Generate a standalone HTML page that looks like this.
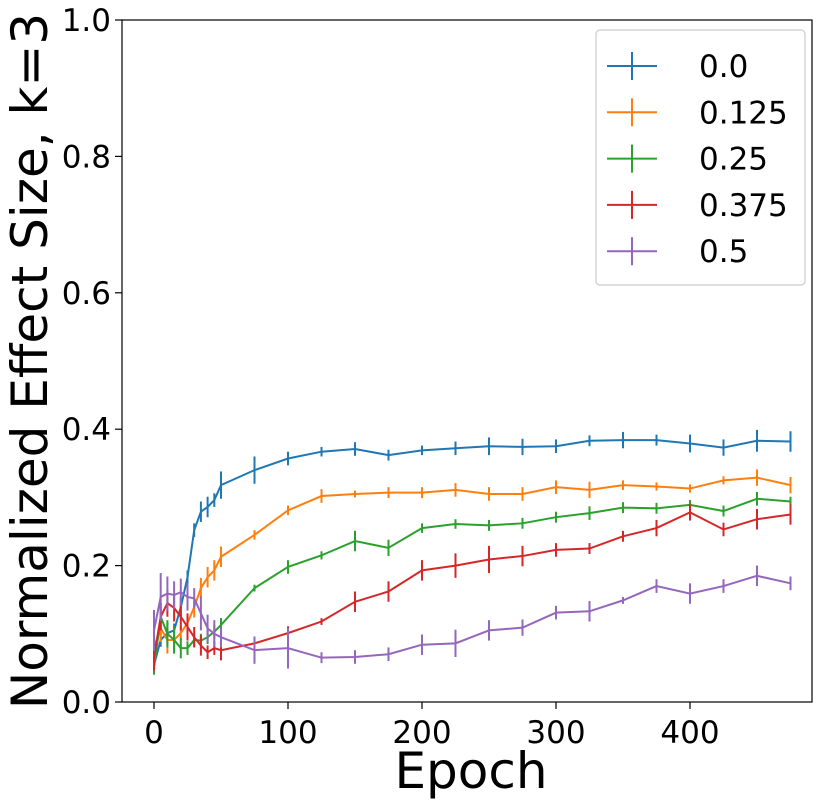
<!DOCTYPE html>
<html><head><meta charset="utf-8"><style>
body{margin:0;background:#fff}
svg{display:block;font-family:"DejaVu Sans","Liberation Sans",sans-serif}
</style></head><body>
<svg id="chart" width="831" height="805" viewBox="0 0 831 805"></svg>
<script>
const epochs=[0,5,10,15,20,25,30,35,40,45,50,75,100,125,150,175,200,225,250,275,300,325,350,375,400,425,450,475];
const seriesLabels=["0.0","0.125","0.25","0.375","0.5"];
const colors=["#1f77b4","#ff7f0e","#2ca02c","#d62728","#9467bd"];
const s0=[0.054,0.091,0.101,0.105,0.139,0.183,0.252,0.279,0.286,0.296,0.318,0.340,0.357,0.367,0.371,0.362,0.369,0.372,0.375,0.374,0.375,0.383,0.384,0.384,0.379,0.373,0.383,0.382];
const s1=[0.081,0.108,0.091,0.091,0.101,0.116,0.139,0.167,0.183,0.193,0.213,0.245,0.281,0.302,0.305,0.307,0.307,0.311,0.305,0.305,0.315,0.311,0.318,0.316,0.313,0.325,0.329,0.318];
const s2=[0.050,0.125,0.100,0.091,0.079,0.079,0.091,0.090,0.095,0.103,0.113,0.167,0.198,0.215,0.236,0.226,0.255,0.261,0.259,0.262,0.271,0.277,0.285,0.284,0.289,0.280,0.298,0.294];
const s3=[0.066,0.125,0.145,0.138,0.125,0.110,0.095,0.083,0.073,0.079,0.076,0.086,0.101,0.118,0.147,0.162,0.193,0.200,0.209,0.214,0.223,0.225,0.243,0.255,0.278,0.253,0.268,0.275];
const s4=[0.105,0.154,0.159,0.157,0.161,0.154,0.152,0.130,0.108,0.100,0.095,0.076,0.079,0.065,0.066,0.070,0.084,0.086,0.105,0.109,0.131,0.133,0.149,0.170,0.159,0.170,0.185,0.174];
const e0=[0.01,0.01,0.015,0.01,0.015,0.01,0.01,0.015,0.015,0.01,0.02,0.02,0.01,0.007,0.01,0.008,0.007,0.01,0.013,0.012,0.01,0.008,0.012,0.008,0.013,0.012,0.016,0.015];
const e1=[0.015,0.02,0.02,0.02,0.01,0.01,0.015,0.015,0.015,0.015,0.015,0.007,0.007,0.01,0.005,0.008,0.008,0.01,0.01,0.01,0.01,0.012,0.007,0.006,0.006,0.006,0.012,0.012];
const e2=[0.01,0.02,0.02,0.02,0.015,0.01,0.01,0.01,0.01,0.01,0.01,0.005,0.01,0.006,0.015,0.012,0.007,0.007,0.008,0.008,0.008,0.01,0.008,0.008,0.007,0.008,0.01,0.007];
const e3=[0.02,0.02,0.02,0.02,0.02,0.02,0.015,0.015,0.01,0.01,0.015,0.01,0.01,0.005,0.015,0.015,0.015,0.018,0.02,0.015,0.01,0.008,0.008,0.012,0.012,0.01,0.015,0.015];
const e4=[0.03,0.035,0.025,0.02,0.02,0.02,0.015,0.025,0.02,0.02,0.015,0.02,0.03,0.008,0.01,0.01,0.015,0.02,0.015,0.012,0.01,0.015,0.005,0.01,0.015,0.01,0.015,0.01];
const xTicks=[0,100,200,300,400];
const yTicks=[0.0,0.2,0.4,0.6,0.8,1.0];
const series=[s0,s1,s2,s3,s4], errs=[e0,e1,e2,e3,e4];
const X0=122,X1=812,Y0=702,Y1=20;
const xs=v=>154+v*1.34;
const ys=v=>Y0-(v)*(Y0-Y1);
const svg=document.getElementById('chart');
const NS="http://www.w3.org/2000/svg";
function mk(tag,attrs,parent){const e=document.createElementNS(NS,tag);for(const k in attrs)e.setAttribute(k,attrs[k]);(parent||svg).appendChild(e);return e;}
const frame=mk('rect',{x:X0,y:Y1,width:X1-X0,height:Y0-Y1,fill:'none',stroke:'#000','stroke-width':1.2});


xTicks.forEach(t=>{
  const l=mk('line',{x1:xs(t),x2:xs(t),y1:Y0,y2:Y0+7,stroke:'#000','stroke-width':1.2});
  
  
  const tx=mk('text',{x:xs(t),y:Y0+41,'font-size':31,'text-anchor':'middle'});
  tx.textContent=t;
  
  
});
yTicks.forEach(t=>{
  const l=mk('line',{x1:X0-7,x2:X0,y1:ys(t),y2:ys(t),stroke:'#000','stroke-width':1.2});
  
  
  const tx=mk('text',{x:X0-11,y:ys(t)+11,'font-size':31,'text-anchor':'end'});
  tx.textContent=t.toFixed(1);
  
  
});
const xt=mk('text',{x:471,y:788,'font-size':50,'text-anchor':'middle'});
xt.textContent='Epoch';


const yt=mk('text',{x:0,y:0,'font-size':50,'text-anchor':'middle',transform:'translate(47,361) rotate(-90)'});
yt.textContent='Normalized Effect Size, k=3';


series.forEach((s,i)=>{
  const g=mk('g',{});
  
  
  const pts=s.map((v,j)=>xs(epochs[j])+','+ys(v)).join(' ');
  const pl=mk('polyline',{points:pts,fill:'none',stroke:colors[i],'stroke-width':2},g);
  
  
  s.forEach((v,j)=>{
    const eb=mk('line',{x1:xs(epochs[j]),x2:xs(epochs[j]),y1:ys(v-errs[i][j]),y2:ys(v+errs[i][j]),stroke:colors[i],'stroke-width':2},g);
    
    
  });
});
const lg=mk('g',{});


mk('rect',{x:596,y:30,width:209,height:255,rx:4,fill:'#fff',stroke:'#ccc','stroke-width':1.2},lg);
seriesLabels.forEach((lab,i)=>{
  const y=66+i*46.3;
  const e=mk('g',{},lg);
  
  
  mk('line',{x1:607,x2:657,y1:y,y2:y,stroke:colors[i],'stroke-width':2},e);
  mk('line',{x1:632,x2:632,y1:y-14,y2:y+14,stroke:colors[i],'stroke-width':2},e);
  const t=mk('text',{x:699,y:y+11,'font-size':31},e);
  t.textContent=lab;
});
</script>
</body></html>
